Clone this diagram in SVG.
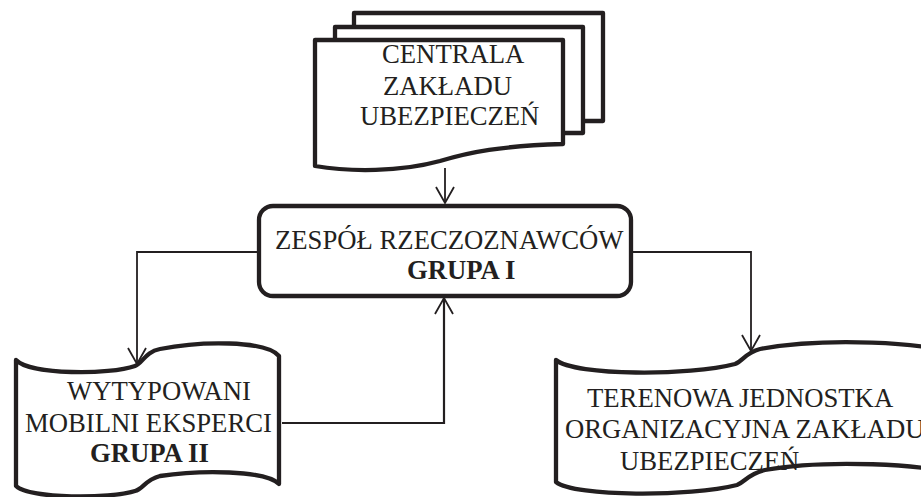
<svg xmlns="http://www.w3.org/2000/svg" width="921" height="497" viewBox="0 0 921 497">
<style>
.shape{fill:#fff;stroke:#231f20;stroke-width:4.3;stroke-linejoin:round}
.t{font-family:"Liberation Serif","Times New Roman",serif;font-size:26.7px;fill:#231f20}
.b{font-weight:bold}
.con{fill:none;stroke:#231f20;stroke-width:1.8}
</style>
<defs>
<marker id="arr" markerUnits="userSpaceOnUse" markerWidth="24" markerHeight="24" refX="0" refY="0" viewBox="-20 -12 24 24" orient="auto" overflow="visible">
<path d="M-16,-9 L0,0 L-16,9" fill="none" stroke="#231f20" stroke-width="1.8"/>
</marker>
</defs>
<g id="centrala">
<path class="shape" d="M354,13 H603 V121 H560 V100 H354 Z"/>
<path class="shape" d="M335,27 H583 V133 H560 V110 H335 Z"/>
<path class="shape" d="M315,40 H563 V144 C500,146 470,152 440,161 C400,172 350,172 315,166 Z"/>
<text class="t" x="382" y="63">CENTRALA</text>
<text class="t" x="383" y="95">ZAKŁADU</text>
<text class="t" x="360" y="125">UBEZPIECZEŃ</text>
</g>
<g id="zespol">
<rect class="shape" x="259" y="206" width="372" height="90" rx="14"/>
<text class="t" x="275" y="249">ZESPÓŁ RZECZOZNAWCÓW</text>
<text class="t b" x="407" y="279">GRUPA I</text>
</g>
<g id="wytypowani">
<path class="shape" d="M16,360 C30,375 110,375 135,366 C143,363 145,352 160,349 C200,341 265,340 279,356 V484 C265,470 200,470 160,476 C145,480 143,489 135,491 C110,499 30,499 16,486 Z"/>
<text class="t" x="67" y="400">WYTYPOWANI</text>
<text class="t" x="25" y="432">MOBILNI EKSPERCI</text>
<text class="t b" x="90" y="462">GRUPA II</text>
</g>
<g id="terenowa">
<path class="shape" d="M556,360 C575,376 690,376 735,364 C743,361 745,353 760,349 C820,338 930,340 965,358 V478 C930,462 820,460 765,470 C748,474 745,482 737,485 C690,497 575,497 556,482 Z"/>
<text class="t" x="587" y="407">TERENOWA JEDNOSTKA</text>
<text class="t" x="565" y="438">ORGANIZACYJNA ZAKŁADU</text>
<text class="t" x="620" y="470">UBEZPIECZEŃ</text>
</g>
<g id="connectors">
<path class="con" d="M445,168 V203" marker-end="url(#arr)"/>
<path class="con" d="M257,252 H137 V364" marker-end="url(#arr)"/>
<path class="con" d="M633,252 H751 V351" marker-end="url(#arr)"/>
<path class="con" d="M282,423 H444 V298" marker-end="url(#arr)" style="stroke-width:2.2"/>
</g>
</svg>
